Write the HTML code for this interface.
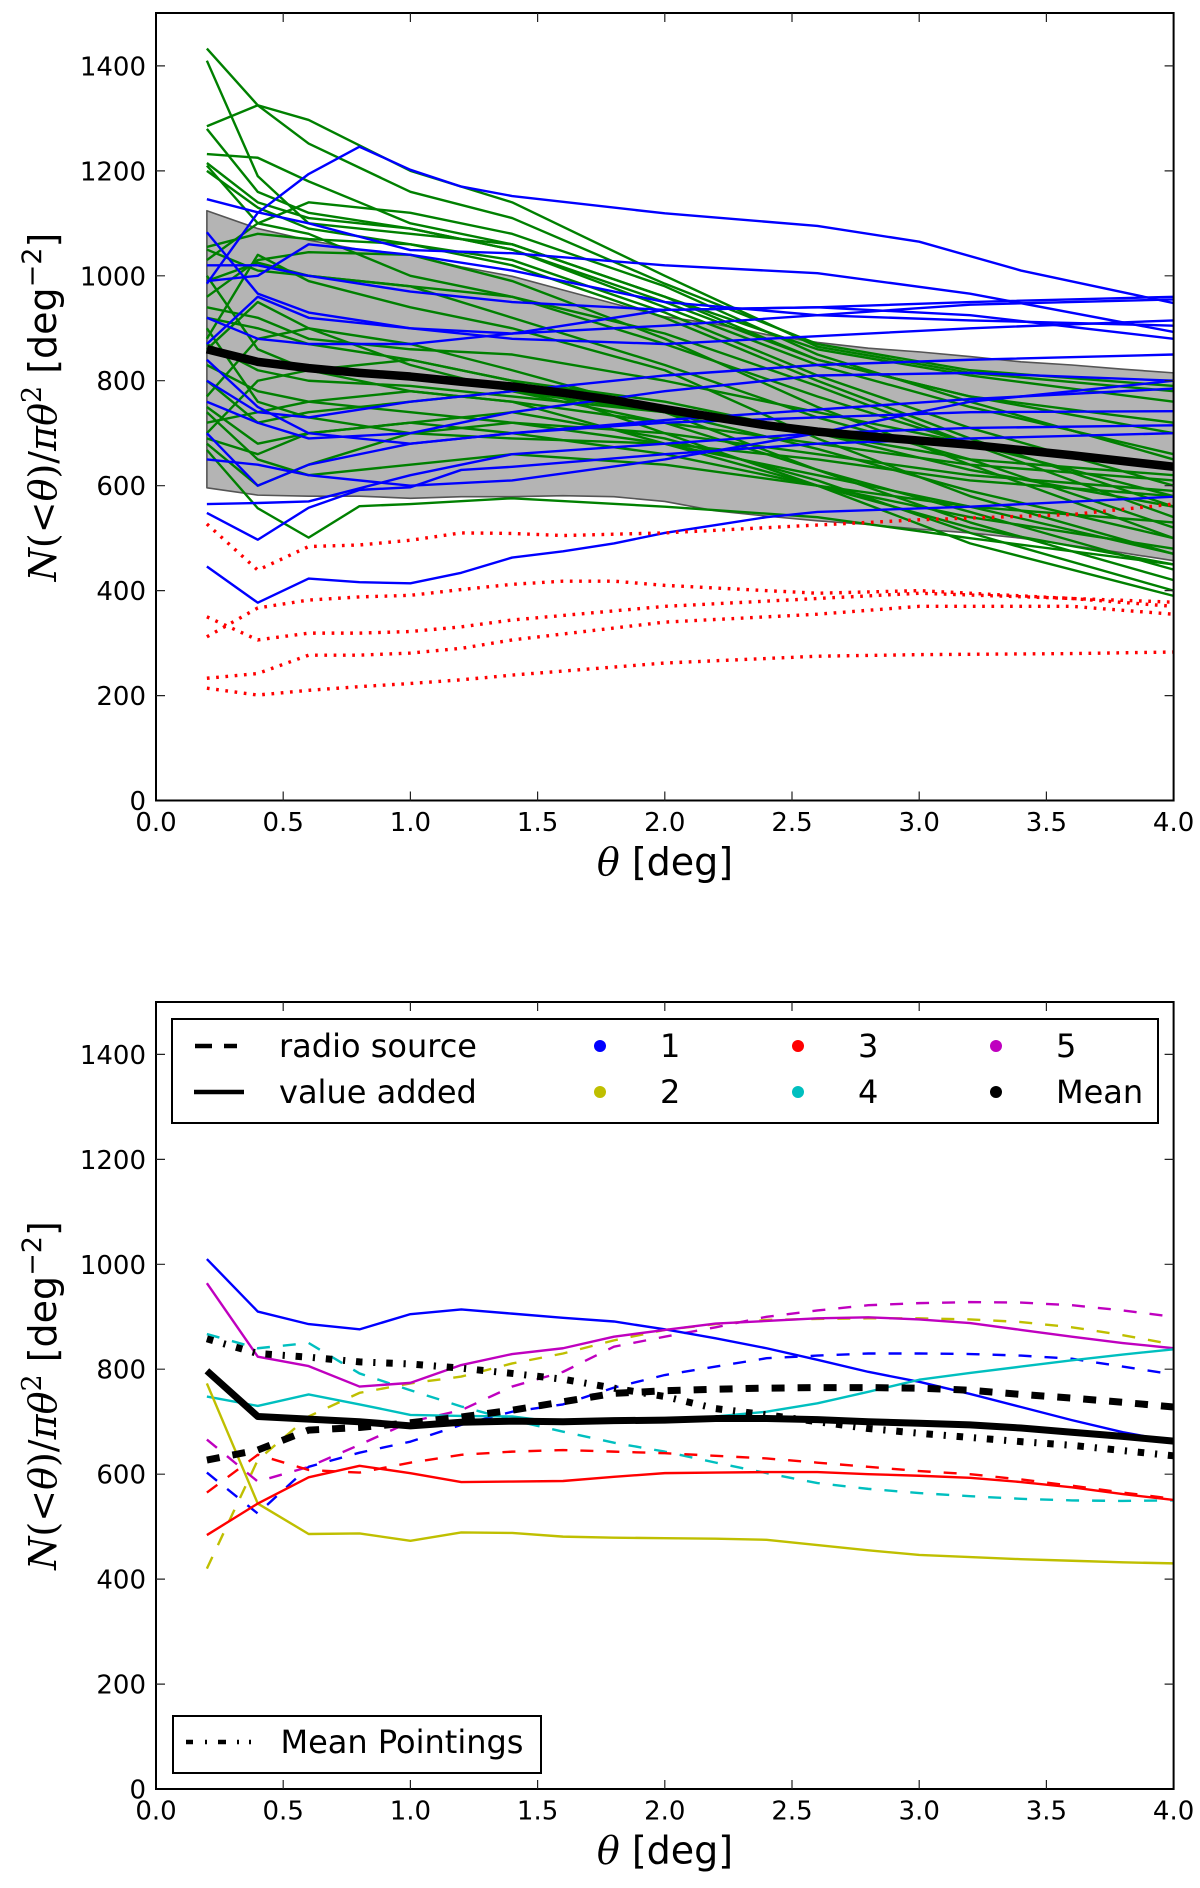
<!DOCTYPE html>
<html><head><meta charset="utf-8"><style>
html,body{margin:0;padding:0;background:#fff;overflow:hidden}
svg{display:block}
.t{font-family:"DejaVu Sans","Liberation Sans",sans-serif;font-size:26px;fill:#000}
.lg{font-family:"DejaVu Sans","Liberation Sans",sans-serif;font-size:32px;fill:#000}
.ln{fill:none;vector-effect:non-scaling-stroke;stroke-linejoin:round}
.g{stroke:#008000;stroke-width:2.4}
.b{stroke:#0000ff;stroke-width:2.4}
.r{stroke:#ff0000;stroke-width:3.4;stroke-dasharray:2.7 6.6}
.tk{stroke:#222;stroke-width:1.2}
</style></head><body>
<svg width="1200" height="1888" viewBox="0 0 1200 1888" xmlns="http://www.w3.org/2000/svg">
<rect width="1200" height="1888" fill="#fff"/>
<defs>
<clipPath id="c1"><rect x="156" y="13" width="1017.6" height="787.5"/></clipPath>
<clipPath id="c2"><rect x="156" y="1002" width="1017.6" height="787"/></clipPath>
</defs>

<!-- ========== TOP PLOT ========== -->
<g clip-path="url(#c1)">
<g transform="matrix(50.88,0,0,-0.5247,156,800.5)">
<polygon class="ln" style="fill:#b4b4b4;stroke:#555;stroke-width:1.6" points="1,1124 2,1090 3,1068 4,1050 5,1040 6,1017 7,999 8,973 9,947 10,922 11,908 12,888 13,873 14,862 15,855 16,846 17,836 18,830 19,822 20,815 20,457 19,472 18,486 17,500 16,510 15,517 14,526 13,533 12,542 11,552 10,570 9,579 8,581 7,579 6,579 5,576 4,580 3,580 2,582 1,596"/>
<!-- green -->
<polyline class="ln g" points="1,1433 2,1325 3,1252 5,1160 7,1110 10,985 13,870 16,820 20,790"/>
<polyline class="ln g" points="1,1410 2,1190 3,1100 5,1080 7,1060 10,960 13,860 16,810 20,760"/>
<polyline class="ln g" points="1,1285 2,1325 3,1297 5,1200 7,1140 10,1000 13,865 16,815 20,780"/>
<polyline class="ln g" points="1,1280 2,1160 3,1120 5,1090 7,1050 10,950 13,840 16,770 20,720"/>
<polyline class="ln g" points="1,1232 2,1225 3,1180 5,1100 7,1060 10,960 13,840 16,770 20,700"/>
<polyline class="ln g" points="1,1215 2,1140 3,1110 5,1090 7,1050 10,940 13,830 16,750 20,660"/>
<polyline class="ln g" points="1,1210 2,1100 3,1140 5,1120 7,1080 10,980 13,850 16,760 20,650"/>
<polyline class="ln g" points="1,1200 2,1130 3,1090 5,1060 7,1030 10,930 13,810 16,710 20,600"/>
<polyline class="ln g" points="1,1055 2,1080 3,1070 5,1060 7,1020 10,920 13,800 16,690 20,560"/>
<polyline class="ln g" points="1,1050 2,1010 3,1000 5,980 7,960 10,890 13,790 16,680 20,540"/>
<polyline class="ln g" points="1,1030 2,1100 3,1080 5,1000 7,960 10,870 13,770 16,680 20,580"/>
<polyline class="ln g" points="1,990 2,1025 3,1000 5,980 7,920 10,830 13,730 16,650 20,520"/>
<polyline class="ln g" points="1,960 2,1030 3,1045 5,1040 7,990 10,880 13,750 16,640 20,500"/>
<polyline class="ln g" points="1,920 2,900 3,870 5,840 7,800 10,760 13,700 16,630 20,560"/>
<polyline class="ln g" points="1,880 2,1040 3,990 5,940 7,900 10,820 13,690 16,580 20,470"/>
<polyline class="ln g" points="1,860 2,950 3,900 5,830 7,780 10,740 13,670 16,590 20,500"/>
<polyline class="ln g" points="1,830 2,780 3,760 5,740 7,720 10,700 13,660 16,620 20,590"/>
<polyline class="ln g" points="1,800 2,720 3,740 5,760 7,780 10,720 13,630 16,550 20,440"/>
<polyline class="ln g" points="1,770 2,880 3,900 5,870 7,820 10,740 13,630 16,530 20,420"/>
<polyline class="ln g" points="1,750 2,680 3,700 5,720 7,740 10,690 13,610 16,510 20,400"/>
<polyline class="ln g" points="1,720 2,740 3,760 5,780 7,760 10,680 13,600 16,490 20,390"/>
<polyline class="ln g" points="1,700 2,800 3,820 5,840 7,800 10,700 13,600 16,520 20,450"/>
<polyline class="ln g" points="1,690 2,660 3,700 5,720 7,700 10,660 13,600 16,540 20,480"/>
<polyline class="ln g" points="1,680 2,600 3,640 5,700 7,720 10,680 13,620 16,560 20,470"/>
<polyline class="ln g" points="1,668 2,557 3,501 4,561 5,565 7,576 10,560 13,540 16,500 20,450"/>
<polyline class="ln g" points="1,740 2,650 3,620 5,640 7,660 10,640 13,600 16,560 20,530"/>
<polyline class="ln g" points="1,900 2,760 3,730 5,700 7,690 10,680 13,650 16,610 20,580"/>
<polyline class="ln g" points="1,1000 2,860 3,820 5,780 7,760 10,720 13,680 16,640 20,610"/>
<polyline class="ln g" points="1,870 2,820 3,800 5,790 7,770 10,740 13,700 16,650 20,620"/>
<polyline class="ln g" points="1,940 2,920 3,880 5,860 7,850 10,800 13,740 16,680 20,640"/>
<!-- blue -->
<polyline class="ln b" points="1,1146 2,1121 3,1100 5,1049 7,1043 10,1020 13,1005 16,966 20,893"/>
<polyline class="ln b" points="1,985 2,1120 3,1194 4,1246 5,1202 6,1170 7,1152 10,1119 13,1095 15,1065 17,1010 20,948"/>
<polyline class="ln b" points="1,1083 2,966 3,930 5,900 7,890 10,905 13,925 16,945 20,955"/>
<polyline class="ln b" points="1,1020 2,1020 3,1000 5,970 7,950 10,935 13,940 16,950 20,960"/>
<polyline class="ln b" points="1,990 2,1000 3,1060 5,1040 7,1010 10,950 13,925 16,915 20,905"/>
<polyline class="ln b" points="1,920 2,880 3,870 5,870 7,890 10,935 13,940 16,925 20,880"/>
<polyline class="ln b" points="1,870 2,960 3,920 5,900 7,880 10,870 13,885 16,900 20,915"/>
<polyline class="ln b" points="1,800 2,740 3,730 5,760 7,780 10,810 13,830 16,840 20,850"/>
<polyline class="ln b" points="1,760 2,720 3,690 5,700 7,740 10,780 13,810 16,815 20,800"/>
<polyline class="ln b" points="1,840 2,750 3,700 5,680 7,700 10,725 13,745 16,765 20,785"/>
<polyline class="ln b" points="1,700 2,600 3,640 5,680 7,700 10,720 13,730 16,740 20,742"/>
<polyline class="ln b" points="1,565 2,567 3,570 5,620 7,660 10,680 13,700 16,710 20,715"/>
<polyline class="ln b" points="1,548 2,497 3,558 4,592 5,597 6,630 7,636 10,660 13,680 16,690 20,700"/>
<polyline class="ln b" points="1,446 2,377 3,423 4,416 5,414 6,434 7,463 8,475 9,490 10,510 11,525 12,540 13,550 16,560 20,579"/>
<polyline class="ln b" points="1,650 2,640 3,620 5,600 7,610 10,650 13,700 16,760 20,800"/>
<!-- red dotted -->
<polyline class="ln r" points="1,527 2,439 3,484 4,487 5,496 6,510 7,509 8,505 10,510 13,525 15,535 18,545 20,565"/>
<polyline class="ln r" points="1,312 2,367 3,382 4,388 5,391 6,402 7,412 8,418 9,418 10,410 13,395 15,400 18,385 20,370"/>
<polyline class="ln r" points="1,350 2,306 3,319 4,319 5,322 6,331 7,344 10,370 13,385 15,395 18,385 20,378"/>
<polyline class="ln r" points="1,233 2,242 3,277 4,277 5,281 6,290 7,306 10,340 13,355 15,370 18,370 20,355"/>
<polyline class="ln r" points="1,214 2,201 3,210 4,217 5,223 6,230 7,239 10,262 13,275 15,278 18,280 20,283"/>
<!-- mean -->
<polyline class="ln" style="stroke:#000;stroke-width:8.5" points="1,860 2,836 3,824 4,815 5,808 6,798 7,789 8,777 9,763 10,746 11,730 12,715 13,703 14,694 15,686 16,678 17,668 18,658 19,647 20,636"/>
</g>
</g>
<rect x="156" y="13" width="1017.6" height="787.5" fill="none" stroke="#000" stroke-width="2"/>
<g class="tk">
<path d="M283.2 800.5V791.5M410.4 800.5V791.5M537.6 800.5V791.5M664.8 800.5V791.5M792 800.5V791.5M919.2 800.5V791.5M1046.4 800.5V791.5
M283.2 13V22M410.4 13V22M537.6 13V22M664.8 13V22M792 13V22M919.2 13V22M1046.4 13V22
M156 695.6H165M156 590.6H165M156 485.7H165M156 380.7H165M156 275.8H165M156 170.9H165M156 65.9H165
M1173.6 695.6H1164.6M1173.6 590.6H1164.6M1173.6 485.7H1164.6M1173.6 380.7H1164.6M1173.6 275.8H1164.6M1173.6 170.9H1164.6M1173.6 65.9H1164.6"/>
</g>
<g class="t" text-anchor="middle">
<text x="156" y="831">0.0</text><text x="283.2" y="831">0.5</text><text x="410.4" y="831">1.0</text><text x="537.6" y="831">1.5</text><text x="664.8" y="831">2.0</text><text x="792" y="831">2.5</text><text x="919.2" y="831">3.0</text><text x="1046.4" y="831">3.5</text><text x="1173.6" y="831">4.0</text>
</g>
<g class="t" text-anchor="end">
<text x="146" y="810">0</text><text x="146" y="705.1">200</text><text x="146" y="600.1">400</text><text x="146" y="495.2">600</text><text x="146" y="390.2">800</text><text x="146" y="285.3">1000</text><text x="146" y="180.4">1200</text><text x="146" y="75.4">1400</text>
</g>
<text x="665" y="875" text-anchor="middle" style="font-family:'DejaVu Sans',sans-serif;font-size:38px"><tspan style="font-family:'DejaVu Serif','Liberation Serif',serif;font-style:italic">θ</tspan> [deg]</text>
<text transform="translate(56,407) rotate(-90)" x="0" y="0" text-anchor="middle" style="font-family:'DejaVu Sans',sans-serif;font-size:38px"><tspan style="font-family:'DejaVu Serif','Liberation Serif',serif;font-style:italic">N</tspan><tspan style="font-family:'DejaVu Serif','Liberation Serif',serif">(&lt;</tspan><tspan style="font-family:'DejaVu Serif','Liberation Serif',serif;font-style:italic">θ</tspan><tspan style="font-family:'DejaVu Serif','Liberation Serif',serif">)/</tspan><tspan style="font-family:'DejaVu Serif','Liberation Serif',serif;font-style:italic">πθ</tspan><tspan dy="-15" style="font-family:'DejaVu Serif','Liberation Serif',serif;font-size:27px">2</tspan><tspan dy="15"> [deg</tspan><tspan dy="-15" style="font-size:27px">−2</tspan><tspan dy="15">]</tspan></text>

<!-- ========== BOTTOM PLOT ========== -->
<g clip-path="url(#c2)">
<g transform="matrix(50.88,0,0,-0.5247,156,1789)">
<!-- dashed thin -->
<polyline class="ln" style="stroke:#00bfbf;stroke-width:2.4;stroke-dasharray:13 13" points="1,867 2,840 3,850 4,792 5,760 6,729 7,703 8,681 9,660 10,643 11,622 12,602 13,583 14,572 15,564 16,558 17,553 18,550 19,549 20,550"/>
<polyline class="ln" style="stroke:#bfbf00;stroke-width:2.4;stroke-dasharray:13 13" points="1,420 2,627 3,710 4,755 5,773 6,786 7,811 8,830 9,855 10,875 11,886 12,894 13,896 14,897 15,897 16,895 17,890 18,880 19,865 20,847"/>
<polyline class="ln" style="stroke:#bf00bf;stroke-width:2.4;stroke-dasharray:13 13" points="1,666 2,586 3,614 4,656 5,700 6,722 7,767 8,795 9,843 10,862 11,880 12,900 13,912 14,922 15,926 16,928 17,927 18,922 19,912 20,900"/>
<polyline class="ln" style="stroke:#0000ff;stroke-width:2.4;stroke-dasharray:13 13" points="1,603 2,525 3,614 4,641 5,662 6,694 7,719 8,733 9,765 10,789 11,805 12,821 13,826 14,830 15,830 16,829 17,826 18,820 19,805 20,790"/>
<polyline class="ln" style="stroke:#ff0000;stroke-width:2.4;stroke-dasharray:13 13" points="1,565 2,637 3,608 4,603 5,622 6,637 7,643 8,646 9,643 10,640 11,635 12,630 13,622 14,614 15,606 16,600 17,590 18,578 19,565 20,553"/>
<!-- solid thin -->
<polyline class="ln" style="stroke:#0000ff;stroke-width:2.4" points="1,1010 2,910 3,886 4,876 5,905 6,914 7,906 8,898 9,891 10,876 11,859 12,840 13,818 14,795 15,776 16,753 17,728 18,703 19,680 20,662"/>
<polyline class="ln" style="stroke:#bf00bf;stroke-width:2.4" points="1,964 2,824 3,806 4,767 5,774 6,808 7,829 8,840 9,862 10,875 11,887 12,892 13,897 14,899 15,895 16,888 17,875 18,862 19,850 20,840"/>
<polyline class="ln" style="stroke:#00bfbf;stroke-width:2.4" points="1,748 2,730 3,752 4,733 5,713 6,711 7,710 8,698 9,699 10,700 11,710 12,719 13,735 14,757 15,780 16,793 17,805 18,817 19,828 20,838"/>
<polyline class="ln" style="stroke:#bfbf00;stroke-width:2.4" points="1,773 2,544 3,486 4,487 5,473 6,489 7,488 8,481 9,479 10,478 11,477 12,475 13,465 14,455 15,446 16,442 17,438 18,435 19,432 20,430"/>
<polyline class="ln" style="stroke:#ff0000;stroke-width:2.4" points="1,484 2,544 3,594 4,616 5,602 6,585 7,586 8,587 9,595 10,602 11,603 12,604 13,604 14,600 15,597 16,593 17,585 18,575 19,562 20,551"/>
<!-- thick black -->
<polyline class="ln" style="stroke:#000;stroke-width:7" points="1,797 2,710 3,705 4,700 5,692 6,699 7,701 8,700 9,702 10,703 11,706 12,706 13,704 14,700 15,697 16,694 17,688 18,680 19,672 20,663"/>
<polyline class="ln" style="stroke:#000;stroke-width:7;stroke-dasharray:13 13" points="1,627 2,646 3,684 4,689 5,698 6,709 7,722 8,738 9,754 10,759 11,762 12,764 13,765 14,765 15,764 16,760 17,752 18,745 19,737 20,728"/>
<polyline class="ln" style="stroke:#000;stroke-width:7;stroke-dasharray:6.5 10.8 2.2 10.8" points="1,858 2,830 3,823 4,814 5,810 6,802 7,792 8,781 9,764 10,748 11,725 12,713 13,700 14,687 15,678 16,670 17,662 18,655 19,645 20,635"/>
</g>
</g>
<rect x="156" y="1002" width="1017.6" height="787" fill="none" stroke="#000" stroke-width="2"/>
<g class="tk">
<path d="M283.2 1789V1780M410.4 1789V1780M537.6 1789V1780M664.8 1789V1780M792 1789V1780M919.2 1789V1780M1046.4 1789V1780
M283.2 1002V1011M410.4 1002V1011M537.6 1002V1011M664.8 1002V1011M792 1002V1011M919.2 1002V1011M1046.4 1002V1011
M156 1684.1H165M156 1579.1H165M156 1474.2H165M156 1369.2H165M156 1264.3H165M156 1159.4H165M156 1054.4H165
M1173.6 1684.1H1164.6M1173.6 1579.1H1164.6M1173.6 1474.2H1164.6M1173.6 1369.2H1164.6M1173.6 1264.3H1164.6M1173.6 1159.4H1164.6M1173.6 1054.4H1164.6"/>
</g>
<g class="t" text-anchor="middle">
<text x="156" y="1819.5">0.0</text><text x="283.2" y="1819.5">0.5</text><text x="410.4" y="1819.5">1.0</text><text x="537.6" y="1819.5">1.5</text><text x="664.8" y="1819.5">2.0</text><text x="792" y="1819.5">2.5</text><text x="919.2" y="1819.5">3.0</text><text x="1046.4" y="1819.5">3.5</text><text x="1173.6" y="1819.5">4.0</text>
</g>
<g class="t" text-anchor="end">
<text x="146" y="1798.5">0</text><text x="146" y="1693.6">200</text><text x="146" y="1588.6">400</text><text x="146" y="1483.7">600</text><text x="146" y="1378.7">800</text><text x="146" y="1273.8">1000</text><text x="146" y="1168.9">1200</text><text x="146" y="1063.9">1400</text>
</g>
<text x="665" y="1863.5" text-anchor="middle" style="font-family:'DejaVu Sans',sans-serif;font-size:38px"><tspan style="font-family:'DejaVu Serif','Liberation Serif',serif;font-style:italic">θ</tspan> [deg]</text>
<text transform="translate(56,1395.5) rotate(-90)" x="0" y="0" text-anchor="middle" style="font-family:'DejaVu Sans',sans-serif;font-size:38px"><tspan style="font-family:'DejaVu Serif','Liberation Serif',serif;font-style:italic">N</tspan><tspan style="font-family:'DejaVu Serif','Liberation Serif',serif">(&lt;</tspan><tspan style="font-family:'DejaVu Serif','Liberation Serif',serif;font-style:italic">θ</tspan><tspan style="font-family:'DejaVu Serif','Liberation Serif',serif">)/</tspan><tspan style="font-family:'DejaVu Serif','Liberation Serif',serif;font-style:italic">πθ</tspan><tspan dy="-15" style="font-family:'DejaVu Serif','Liberation Serif',serif;font-size:27px">2</tspan><tspan dy="15"> [deg</tspan><tspan dy="-15" style="font-size:27px">−2</tspan><tspan dy="15">]</tspan></text>

<!-- legend 1 -->
<rect x="172" y="1019" width="986" height="104" fill="#fff" stroke="#000" stroke-width="2"/>
<path d="M195 1046H212M224 1046H237" stroke="#000" stroke-width="4.5"/>
<path d="M194 1092H244" stroke="#000" stroke-width="4.5"/>
<text class="lg" x="279" y="1057">radio source</text>
<text class="lg" x="279" y="1103">value added</text>
<circle cx="600" cy="1046" r="6" fill="#0000ff"/>
<circle cx="600" cy="1092" r="6" fill="#bfbf00"/>
<circle cx="798" cy="1046" r="6" fill="#ff0000"/>
<circle cx="798" cy="1092" r="6" fill="#00bfbf"/>
<circle cx="996" cy="1046" r="6" fill="#bf00bf"/>
<circle cx="996" cy="1092" r="6" fill="#000"/>
<text class="lg" x="660" y="1057">1</text>
<text class="lg" x="660" y="1103">2</text>
<text class="lg" x="858" y="1057">3</text>
<text class="lg" x="858" y="1103">4</text>
<text class="lg" x="1056" y="1057">5</text>
<text class="lg" x="1056" y="1103">Mean</text>

<!-- legend 2 -->
<rect x="173" y="1716" width="368" height="57" fill="#fff" stroke="#000" stroke-width="2"/>
<path d="M186 1742H193M205 1742H207M218 1742H226M237 1742H239M249 1742H251" stroke="#000" stroke-width="4.5"/>
<text class="lg" x="280.5" y="1753">Mean Pointings</text>
</svg>
</body></html>
